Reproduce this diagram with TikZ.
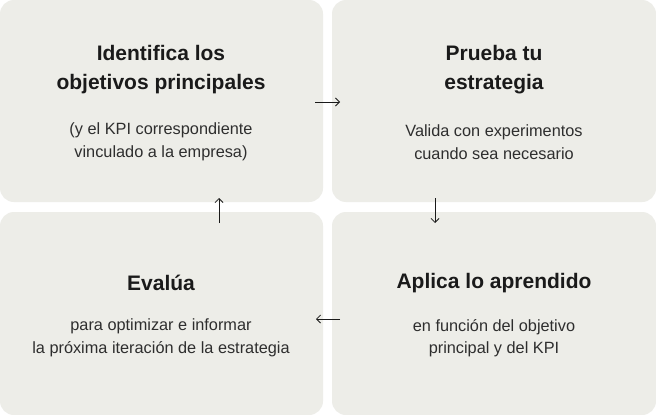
\documentclass[tikz,border=0pt]{standalone}
\usepackage{fontspec}
\setmainfont{Liberation Sans}
\usetikzlibrary{arrows.meta}
\definecolor{boxfill}{HTML}{EDEDE8}
\definecolor{ink}{HTML}{1A1A1A}
\definecolor{bodyink}{HTML}{2E2E2E}
\begin{document}
\begin{tikzpicture}[x=1pt,y=-1pt,
  card/.style={fill=boxfill, draw=none, rounded corners=14pt},
  ttl/.style={align=center, font=\fontsize{21}{29}\selectfont\bfseries, text=ink, inner sep=0pt},
  bdy/.style={align=center, font=\fontsize{16.3}{22.5}\selectfont, text=bodyink, inner sep=0pt},
  flow/.style={draw=ink, line width=0.8pt, -{Straight Barb[length=4pt,width=8pt]}}
]
\useasboundingbox (0,0) rectangle (656,415);
\fill[white] (0,0) rectangle (656,415);
\path[card] (0,0) rectangle (323,202);
\path[card] (332,0) rectangle (656,202);
\path[card] (0,212) rectangle (323,415);
\path[card] (332,212) rectangle (656,415);

\node[ttl] (t1) at (161,70) {Identifica los\\objetivos principales};
\node[bdy] (b1) at (161,142) {(y el KPI correspondiente\\vinculado a la empresa)};
\node[ttl] (t2) at (494,70) {Prueba tu\\estrategia};
\node[bdy] (b2) at (494,142) {Valida con experimentos\\cuando sea necesario};
\node[ttl] (t3) at (494,283) {Aplica lo aprendido};
\node[bdy] (b3) at (494,338) {en función del objetivo\\principal y del KPI};
\node[ttl] (t4) at (161,283) {Evalúa};
\node[bdy] (b4) at (161,338) {para optimizar e informar\\la próxima iteración de la estrategia};

\coordinate (a1s) at (315,102); \coordinate (a1e) at (340,102);
\coordinate (a2s) at (435,198); \coordinate (a2e) at (435,223);
\coordinate (a3s) at (340,319); \coordinate (a3e) at (316,319);
\coordinate (a4s) at (219,223); \coordinate (a4e) at (219,198);
\draw[flow] (a1s) -- (a1e);
\draw[flow] (a2s) -- (a2e);
\draw[flow] (a3s) -- (a3e);
\draw[flow] (a4s) -- (a4e);
\end{tikzpicture}
\end{document}
